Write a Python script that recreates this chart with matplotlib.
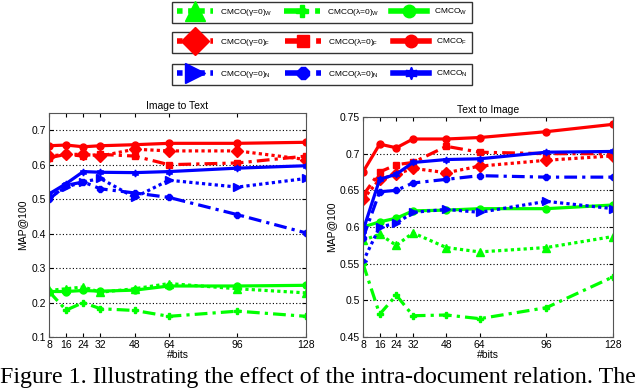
import matplotlib
matplotlib.use('Agg')
import matplotlib.pyplot as plt
from matplotlib.lines import Line2D

plt.rcParams['font.family'] = ['Liberation Sans', 'DejaVu Sans']
plt.rcParams['mathtext.fontset'] = 'custom'
plt.rcParams['mathtext.rm'] = 'Liberation Sans'
plt.rcParams['mathtext.it'] = 'Liberation Sans'

bits = [8, 16, 24, 32, 48, 64, 96, 128]

# Image to Text
i2t_W_g0 = [0.235, 0.240, 0.245, 0.230, 0.240, 0.255, 0.240, 0.228]
i2t_W_l0 = [0.232, 0.178, 0.200, 0.182, 0.177, 0.160, 0.175, 0.160]
i2t_W = [0.232, 0.232, 0.235, 0.233, 0.236, 0.248, 0.248, 0.250]
i2t_F_g0 = [0.625, 0.630, 0.630, 0.625, 0.645, 0.640, 0.640, 0.615]
i2t_F_l0 = [0.620, 0.630, 0.625, 0.630, 0.625, 0.600, 0.605, 0.625]
i2t_F = [0.655, 0.657, 0.652, 0.655, 0.658, 0.662, 0.662, 0.665]
i2t_N_g0 = [0.505, 0.535, 0.550, 0.560, 0.505, 0.555, 0.535, 0.560]
i2t_N_l0 = [0.500, 0.540, 0.550, 0.530, 0.518, 0.505, 0.455, 0.402]
i2t_N = [0.515, 0.545, 0.580, 0.578, 0.577, 0.580, 0.590, 0.597]

# Text to Image
t2i_W_g0 = [0.582, 0.590, 0.575, 0.592, 0.572, 0.566, 0.572, 0.587]
t2i_W_l0 = [0.550, 0.481, 0.507, 0.479, 0.480, 0.475, 0.490, 0.532]
t2i_W = [0.600, 0.607, 0.612, 0.622, 0.623, 0.625, 0.625, 0.630]
t2i_F_g0 = [0.638, 0.665, 0.672, 0.680, 0.674, 0.683, 0.691, 0.697]
t2i_F_l0 = [0.643, 0.675, 0.685, 0.688, 0.710, 0.702, 0.700, 0.700]
t2i_F = [0.675, 0.713, 0.708, 0.720, 0.720, 0.722, 0.730, 0.740]
t2i_N_g0 = [0.553, 0.600, 0.605, 0.620, 0.624, 0.620, 0.635, 0.625]
t2i_N_l0 = [0.585, 0.648, 0.650, 0.660, 0.665, 0.670, 0.668, 0.668]
t2i_N = [0.595, 0.665, 0.672, 0.688, 0.692, 0.693, 0.702, 0.703]

labels = {
    'W': [r'CMCO($\gamma$=0)$_W$', r'CMCO($\lambda$=0)$_W$', r'CMCO$_W$'],
    'F': [r'CMCO($\gamma$=0)$_F$', r'CMCO($\lambda$=0)$_F$', r'CMCO$_F$'],
    'N': [r'CMCO($\gamma$=0)$_N$', r'CMCO($\lambda$=0)$_N$', r'CMCO$_N$'],
}
colors = {'W': (0, 1, 0), 'F': (1, 0, 0), 'N': (0, 0, 1)}
markers = {
    'W': ['^', 'P', 'o'],
    'F': ['D', 's', 'o'],
    'N': ['>', '8', (6, 1, 0)],
}
DOT = (0, (1, 1))
DASHDOT = (0, (4, 1.6, 1, 1.6))
styles = [DOT, DASHDOT, '-']

fig = plt.figure(figsize=(6.4, 3.89), dpi=100)
ax1 = fig.add_axes([49/640, 1-337/389, 257/640, 224/389])
ax2 = fig.add_axes([363/640, 1-337/389, 250/640, 220/389])

data1 = {'W': [i2t_W_g0, i2t_W_l0, i2t_W], 'F': [i2t_F_g0, i2t_F_l0, i2t_F],
         'N': [i2t_N_g0, i2t_N_l0, i2t_N]}
data2 = {'W': [t2i_W_g0, t2i_W_l0, t2i_W], 'F': [t2i_F_g0, t2i_F_l0, t2i_F],
         'N': [t2i_N_g0, t2i_N_l0, t2i_N]}

for ax, data in [(ax1, data1), (ax2, data2)]:
    for k in ['W', 'F', 'N']:
        for j in range(3):
            ms = 6 if j == 0 else 5
            ax.plot(bits, data[k][j], color=colors[k], linestyle=styles[j],
                    marker=markers[k][j], markersize=ms, linewidth=2.3,
                    markeredgecolor=colors[k])
    ax.set_xlim(8, 128)
    ax.set_xticks(bits)
    ax.tick_params(direction='in', top=True, right=True, labelsize=7.5,
                   length=3, pad=2)
    ax.yaxis.grid(True, linestyle=(0, (1, 2)), color='k', linewidth=0.8)
    ax.set_xlabel('#bits', fontsize=7.5, labelpad=0)
    ax.set_ylabel('MAP@100', fontsize=7.5, labelpad=3)
    for s in ax.spines.values():
        s.set_color('#555555')

ax1.set_ylim(0.1, 0.75)
ax1.set_yticks([0.1, 0.2, 0.3, 0.4, 0.5, 0.6, 0.7])
ax1.set_title('Image to Text', fontsize=7.5, pad=3)
ax2.set_ylim(0.45, 0.75)
ax2.set_yticks([0.45, 0.5, 0.55, 0.6, 0.65, 0.7, 0.75])
ax2.set_yticklabels(['0.45', '0.5', '0.55', '0.6', '0.65', '0.7', '0.75'])
ax2.set_title('Text to Image', fontsize=7.5, pad=3)

# three legend rows, same width
row_box = [(0, 25), (28, 57), (59, 89)]
for k, (ytop, ybot) in zip(['W', 'F', 'N'], row_box):
    handles = []
    for j in range(3):
        msz = 14 if j == 0 else 9
        handles.append(Line2D([], [], color=colors[k], linestyle=styles[j],
                              marker=markers[k][j], markersize=msz,
                              linewidth=4))
    leg = fig.legend(handles, labels[k], loc='center',
                     bbox_to_anchor=(172/640, 1-ybot/389, 300/640, (ybot-ytop)/389),
                     mode='expand', ncol=3,
                     fontsize=6, frameon=True, fancybox=False,
                     edgecolor='k', handlelength=4.3, handletextpad=0.8,
                     columnspacing=0.3, borderpad=0.6, borderaxespad=0)
    leg.get_frame().set_linewidth(1.0)

fig.text(0.0, 1-378/389, 'Figure 1. Illustrating the effect of the intra-document relation. The',
         family='Liberation Serif', fontsize=17.3, va='center', ha='left')

fig.savefig('out.png', dpi=100)
